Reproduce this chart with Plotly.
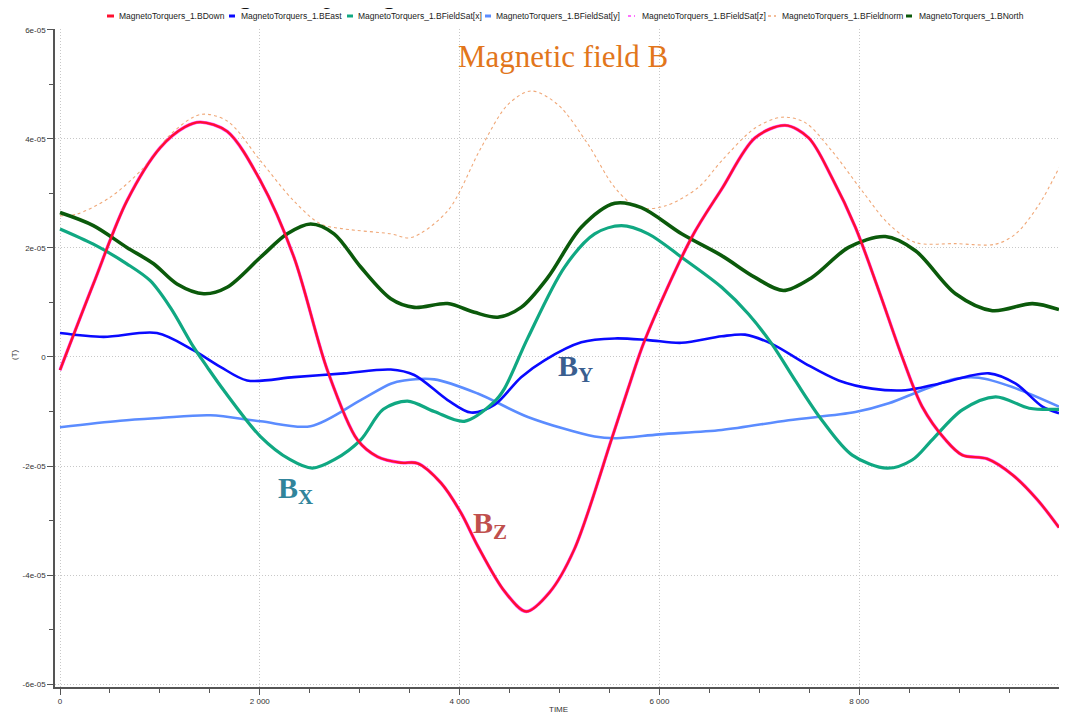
import plotly.graph_objects as go

SCALE = 1e-5  # values below are in units of 1e-05 T

# --- series: MagnetoTorquers_1.BDown (red) ---
down_t = [0, 334, 669, 1003, 1250, 1405, 1673, 2007, 2342, 2676, 2977, 3178, 3412, 3579, 3813, 4014, 4182,
          4450, 4667, 4900, 5148, 5519, 5687, 5854, 6322, 6623, 6957, 7259, 7494, 7727, 7962, 8196, 8430,
          8630, 8864, 9032, 9283, 9533, 9784, 10000]
down_v = [-0.24, 1.34, 2.86, 3.84, 4.22, 4.31, 4.14, 3.23, 1.83, -0.24, -1.52, -1.83, -1.94, -1.95, -2.31, -2.86,
          -3.47, -4.30, -4.67, -4.32, -3.53, -1.52, -0.58, 0.31, 2.19, 3.08, 4.02, 4.25, 4.02, 3.29, 2.38, 1.22,
          0.0, -0.91, -1.52, -1.80, -1.87, -2.16, -2.62, -3.13]

# --- MagnetoTorquers_1.BEast (blue) ---
east_t = [0, 435, 970, 1338, 1605, 1873, 2342, 2843, 3311, 3546, 3880, 4114, 4348, 4616, 4850, 5218, 5553,
          5888, 6222, 6623, 6857, 7125, 7460, 7794, 8129, 8463, 8797, 9298, 9567, 9834, 10000]
east_v = [0.44, 0.37, 0.44, 0.12, -0.18, -0.43, -0.37, -0.30, -0.23, -0.33, -0.79, -1.02, -0.88, -0.37, -0.06,
          0.27, 0.34, 0.31, 0.26, 0.38, 0.41, 0.24, -0.12, -0.43, -0.58, -0.61, -0.49, -0.30, -0.49, -0.91, -1.03]

# --- MagnetoTorquers_1.BFieldSat[x] (teal) ---
satx_t = [0, 334, 669, 903, 1104, 1338, 1472, 1639, 2007, 2300, 2526, 2750, 3010, 3236, 3479, 3746, 4047, 4348,
          4449, 4683, 5051, 5352, 5620, 5888, 6222, 6623, 6891, 7125, 7359, 7627, 7930, 8279, 8530, 8730, 9032,
          9365, 9701, 10000]
satx_v = [2.35, 2.07, 1.71, 1.40, 0.91, 0.18, -0.18, -0.61, -1.46, -1.88, -2.04, -1.88, -1.52, -0.96, -0.81,
          -1.00, -1.18, -0.82, -0.58, 0.35, 1.65, 2.26, 2.41, 2.26, 1.83, 1.28, 0.79, 0.24, -0.43, -1.16, -1.80,
          -2.04, -1.89, -1.52, -0.97, -0.73, -0.94, -0.96]

# --- MagnetoTorquers_1.BFieldSat[y] (light blue) ---
saty_t = [0, 602, 1000, 1505, 2007, 2509, 3010, 3311, 3445, 3746, 4182, 4683, 5352, 5570, 6000, 6623, 7293,
          7962, 8296, 8630, 8964, 9198, 9533, 10000]
saty_v = [-1.29, -1.17, -1.12, -1.07, -1.18, -1.27, -0.79, -0.49, -0.43, -0.41, -0.67, -1.10, -1.46, -1.49,
          -1.42, -1.34, -1.16, -1.01, -0.85, -0.61, -0.40, -0.38, -0.55, -0.91]

# --- MagnetoTorquers_1.BFieldSat[z] (magenta, coincides with BDown) ---
satz_t = down_t
satz_v = down_v

# --- MagnetoTorquers_1.BFieldnorm (orange dotted) ---
norm_t = [0, 167, 502, 836, 1104, 1405, 1673, 2007, 2342, 2609, 2843, 3311, 3512, 3880, 4215, 4483, 4717, 4984,
          5286, 5553, 5787, 6055, 6389, 6623, 6957, 7225, 7460, 7727, 8028, 8296, 8563, 8964, 9365, 9567, 9801,
          10000]
norm_v = [2.59, 2.62, 2.93, 3.47, 4.08, 4.45, 4.33, 3.60, 2.86, 2.44, 2.35, 2.26, 2.19, 2.68, 3.84, 4.63, 4.88,
          4.63, 3.90, 3.11, 2.74, 2.77, 3.11, 3.60, 4.20, 4.40, 4.30, 3.78, 3.05, 2.44, 2.10, 2.08, 2.07, 2.26,
          2.80, 3.47]

# --- MagnetoTorquers_1.BNorth (dark green) ---
north_t = [0, 334, 669, 937, 1171, 1439, 1673, 2007, 2275, 2509, 2743, 3010, 3311, 3546, 3880, 4148, 4382,
           4616, 4884, 5218, 5553, 5820, 6222, 6623, 6957, 7241, 7527, 7894, 8262, 8563, 8964, 9333, 9734, 10000]
north_v = [2.65, 2.41, 2.01, 1.71, 1.34, 1.16, 1.28, 1.83, 2.26, 2.44, 2.26, 1.65, 1.07, 0.91, 0.98, 0.82, 0.73,
           0.91, 1.46, 2.38, 2.82, 2.74, 2.26, 1.86, 1.46, 1.22, 1.46, 2.01, 2.21, 1.95, 1.16, 0.85, 0.98, 0.87]

names = ["MagnetoTorquers_1.BDown", "MagnetoTorquers_1.BEast", "MagnetoTorquers_1.BFieldSat[x]",
         "MagnetoTorquers_1.BFieldSat[y]", "MagnetoTorquers_1.BFieldSat[z]", "MagnetoTorquers_1.BFieldnorm",
         "MagnetoTorquers_1.BNorth"]
colors = ["#ff1030", "#0a0aff", "#10a882", "#5b8cff", "#ff40ff", "#f0a878", "#0b5a0b"]

x_ticks = [0, 2000, 4000, 6000, 8000, 10000]
x_ticktext = ["0", "2 000", "4 000", "6 000", "8 000", "10 000"]
y_ticks = [-6e-5, -4e-5, -2e-5, 0, 2e-5, 4e-5, 6e-5]
y_ticktext = ["-6e-05", "-4e-05", "-2e-05", "0", "2e-05", "4e-05", "6e-05"]

# geometry: the page body has an 8px margin, so the figure is shrunk by it
OFF = 8
W, H = 1067 - OFF, 713 - OFF
# plot area in page pixels: x 55..1062, y 29..687
L, R, T, B = 55 - OFF, 1067 - 1062, 29 - OFF, 713 - 687
PW, PH = W - L - R, H - T - B


def px(xp):  # page pixel -> paper x
    return (xp - OFF - L) / PW


def py(yp):  # page pixel -> paper y
    return (H - B - (yp - OFF)) / PH


def sc(v):
    return [a * SCALE for a in v]


fig = go.Figure()

series = [
    (satz_t, satz_v, 4, 3.3, "solid"),   # magenta just under red
    (norm_t, norm_v, 5, 1.1, "dot"),
    (saty_t, saty_v, 3, 2.6, "solid"),
    (east_t, east_v, 1, 2.6, "solid"),
    (satx_t, satx_v, 2, 3.2, "solid"),
    (north_t, north_v, 6, 3.6, "solid"),
    (down_t, down_v, 0, 2.4, "solid"),
]
for t, v, idx, w, dash in series:
    fig.add_trace(go.Scatter(x=t, y=sc(v), mode="lines", name=names[idx],
                             line=dict(color=colors[idx], width=w, dash=dash, shape="spline", smoothing=0.9),
                             showlegend=False))

ann = []
shapes = []
# legend drawn as annotations + small line samples
leg_sym = [(107, 114), (229, 235), (347, 353), (485, 491), (628, 635), (768, 776), (906, 912)]
leg_txt = [117, 239, 356, 494, 640, 780, 917]
leg_dash = ["solid", "solid", "solid", "solid", "dot", "dot", "solid"]
leg_w = [3, 3, 3, 3, 1.5, 1.5, 3]
for i in range(7):
    shapes.append(dict(type="line", xref="paper", yref="paper", x0=px(leg_sym[i][0]), x1=px(leg_sym[i][1]),
                       y0=py(16), y1=py(16), line=dict(color=colors[i], width=leg_w[i], dash=leg_dash[i])))
    ann.append(dict(xref="paper", yref="paper", x=px(leg_txt[i]), y=py(16), xanchor="left", yanchor="middle",
                    text=names[i], showarrow=False,
                    font=dict(family="Liberation Sans", size=8.5, color="#222")))

# cut-off caption text at the very top
ann.append(dict(xref="paper", yref="paper", x=px(9), y=py(12), xanchor="left", yanchor="bottom",
                text="e of the field according to the pe. Figure 1:", showarrow=False,
                font=dict(family="Liberation Serif", size=26, color="#111")))

ann.append(dict(xref="paper", yref="paper", x=px(563), y=py(57), xanchor="center", yanchor="middle",
                text="Magnetic field B", showarrow=False,
                font=dict(family="Liberation Serif", size=31, color="#e2761b")))
ann.append(dict(xref="paper", yref="paper", x=px(575), y=py(368), xanchor="center", yanchor="middle",
                text="<b>B<sub>Y</sub></b>", showarrow=False,
                font=dict(family="Liberation Serif", size=30, color="#3a5e8f")))
ann.append(dict(xref="paper", yref="paper", x=px(295), y=py(490), xanchor="center", yanchor="middle",
                text="<b>B<sub>X</sub></b>", showarrow=False,
                font=dict(family="Liberation Serif", size=30, color="#31849b")))
ann.append(dict(xref="paper", yref="paper", x=px(490), y=py(525), xanchor="center", yanchor="middle",
                text="<b>B<sub>Z</sub></b>", showarrow=False,
                font=dict(family="Liberation Serif", size=30, color="#c0504d")))

# axis titles
ann.append(dict(xref="paper", yref="paper", x=px(14), y=py(355), xanchor="center", yanchor="middle",
                text="(T)", textangle=-90, showarrow=False,
                font=dict(family="Liberation Sans", size=8, color="#333")))
ann.append(dict(xref="paper", yref="paper", x=px(558), y=py(709), xanchor="center", yanchor="middle",
                text="TIME", showarrow=False,
                font=dict(family="Liberation Sans", size=8, color="#333")))

axis_common = dict(showline=True, linecolor="#555", linewidth=1.5, ticks="outside", ticklen=6, tickwidth=1,
                   tickcolor="#555", showgrid=True, gridcolor="#c8c8c8", griddash="1px,2px", gridwidth=1,
                   zeroline=False, automargin=False,
                   tickfont=dict(family="Liberation Sans", size=8, color="#333"))

fig.update_layout(
    width=W, height=H,
    margin=dict(l=L, r=R, t=T, b=B, pad=0, autoexpand=False),
    paper_bgcolor="white", plot_bgcolor="white",
    annotations=ann, shapes=shapes,
    xaxis=dict(range=[-50, 10030], tickmode="array", tickvals=x_ticks, ticktext=x_ticktext,
               minor=dict(tick0=0, dtick=500, ticks="outside", ticklen=4, tickcolor="#555", showgrid=False),
               **axis_common),
    yaxis=dict(range=[-6.055e-5, 6.018e-5], tickmode="array", tickvals=y_ticks, ticktext=y_ticktext,
               minor=dict(tick0=0, dtick=1e-5, ticks="outside", ticklen=4, tickcolor="#555", showgrid=False),
               **axis_common),
)

fig.write_html("out.html")
